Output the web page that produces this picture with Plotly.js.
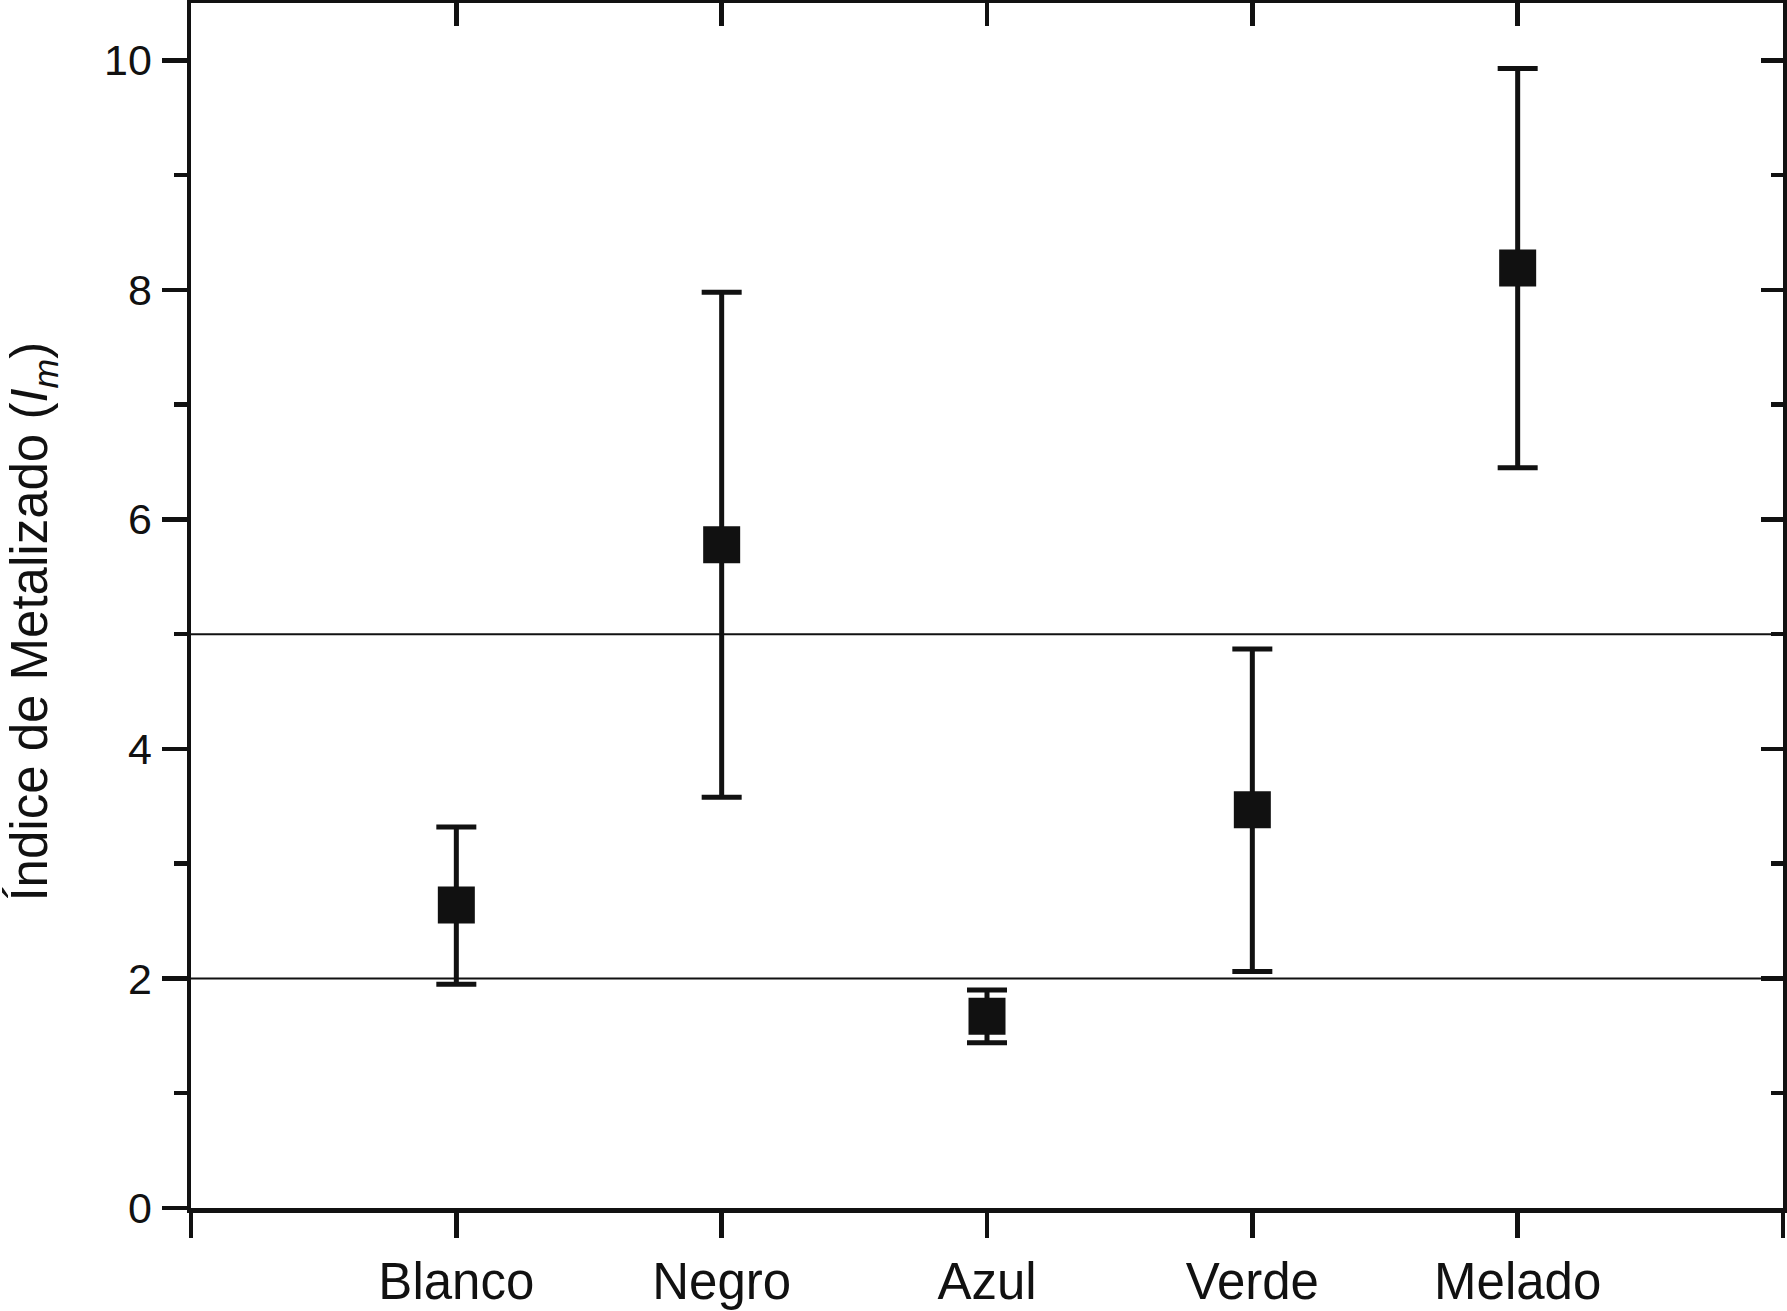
<!DOCTYPE html>
<html>
<head>
<meta charset="utf-8">
<script src="https://cdn.plot.ly/plotly-3.0.1.min.js"></script>
<style>html,body{margin:0;padding:0;background:#fff;}#chart{width:1787px;height:1311px;}</style>
</head>
<body>
<div id="chart"></div>
<script>
// Data
const categories = ["Blanco", "Negro", "Azul", "Verde", "Melado"];
const positions = [1, 2, 3, 4, 5];
const meanValues = [2.64, 5.78, 1.67, 3.47, 8.19];
const upperValues = [3.32, 7.98, 1.90, 4.87, 9.93];
const lowerValues = [1.95, 3.58, 1.44, 2.06, 6.45];
const referenceLines = [5, 2];
const yTickVals = [0, 2, 4, 6, 8, 10];
const xEdgeTicks = [0, 6];
const yTitle = "Índice de Metalizado (<i>I</i><sub><i>m</i></sub>)";

const errPlus = meanValues.map((v, i) => +(upperValues[i] - v).toFixed(3));
const errMinus = meanValues.map((v, i) => +(v - lowerValues[i]).toFixed(3));

const FONT = "Liberation Sans, Arial, Helvetica, sans-serif";
const INK = "#111111";

const traces = [
  {
    x: positions,
    y: meanValues,
    type: "scatter",
    mode: "markers",
    marker: { symbol: "square", size: 37, color: INK, line: { width: 0 } },
    error_y: {
      type: "data", symmetric: false,
      array: errPlus, arrayminus: errMinus,
      color: INK, thickness: 5, width: 20
    },
    showlegend: false,
    hoverinfo: "x+y"
  },
  {
    x: [0, 6], y: [0, 10.5], xaxis: "x2", yaxis: "y2",
    type: "scatter", mode: "markers",
    marker: { opacity: 0 }, showlegend: false, hoverinfo: "skip"
  }
];

const layout = {
  width: 1787, height: 1311,
  margin: { l: 191, r: 4, t: 3, b: 103 },
  paper_bgcolor: "#ffffff", plot_bgcolor: "#ffffff",
  font: { family: FONT, color: INK },
  xaxis: {
    range: [0, 6],
    tickmode: "array", tickvals: positions, ticktext: categories,
    ticks: "outside", ticklen: 25, tickwidth: 4.5, tickcolor: INK,
    minor: { tickmode: "array", tickvals: xEdgeTicks, ticks: "outside", ticklen: 25, tickwidth: 4.5, tickcolor: INK, showgrid: false },
    showline: true, linewidth: 4.5, linecolor: INK,
    showgrid: false, zeroline: false,
    tickfont: { size: 51, family: FONT, color: INK },
    ticklabelstandoff: 0
  },
  yaxis: {
    range: [0, 10.5],
    tickmode: "array", tickvals: yTickVals,
    ticks: "outside", ticklen: 25, tickwidth: 4.5, tickcolor: INK,
    minor: { dtick: 1, tick0: 0, ticks: "outside", ticklen: 13, tickwidth: 4.5, tickcolor: INK, showgrid: false },
    showline: true, linewidth: 4.5, linecolor: INK,
    showgrid: false, zeroline: false,
    tickfont: { size: 43, family: FONT, color: INK },
    ticklabelstandoff: 1
  },
  xaxis2: {
    overlaying: "x", side: "top", range: [0, 6],
    tickmode: "array", tickvals: positions,
    ticks: "inside", ticklen: 23, tickwidth: 4.5, tickcolor: INK,
    showline: true, linewidth: 4.5, linecolor: INK,
    showgrid: false, zeroline: false, showticklabels: false
  },
  yaxis2: {
    overlaying: "y", side: "right", range: [0, 10.5],
    tickmode: "array", tickvals: yTickVals,
    ticks: "inside", ticklen: 22, tickwidth: 4.5, tickcolor: INK,
    minor: { dtick: 1, tick0: 0, ticks: "inside", ticklen: 12, tickwidth: 4.5, tickcolor: INK, showgrid: false },
    showline: true, linewidth: 4.5, linecolor: INK,
    showgrid: false, zeroline: false, showticklabels: false
  },
  annotations: [{
    text: yTitle, textangle: -90,
    xref: "paper", yref: "paper", x: -0.099, y: 0.487,
    xanchor: "center", yanchor: "middle", showarrow: false,
    font: { size: 51, family: FONT, color: INK }
  }],
  shapes: referenceLines.map(v => ({
    type: "line", xref: "paper", x0: 0, x1: 1, yref: "y", y0: v, y1: v,
    line: { color: INK, width: 2 }, layer: "below"
  }))
};

Plotly.newPlot("chart", traces, layout, { displayModeBar: false, staticPlot: true });
</script>
</body>
</html>
